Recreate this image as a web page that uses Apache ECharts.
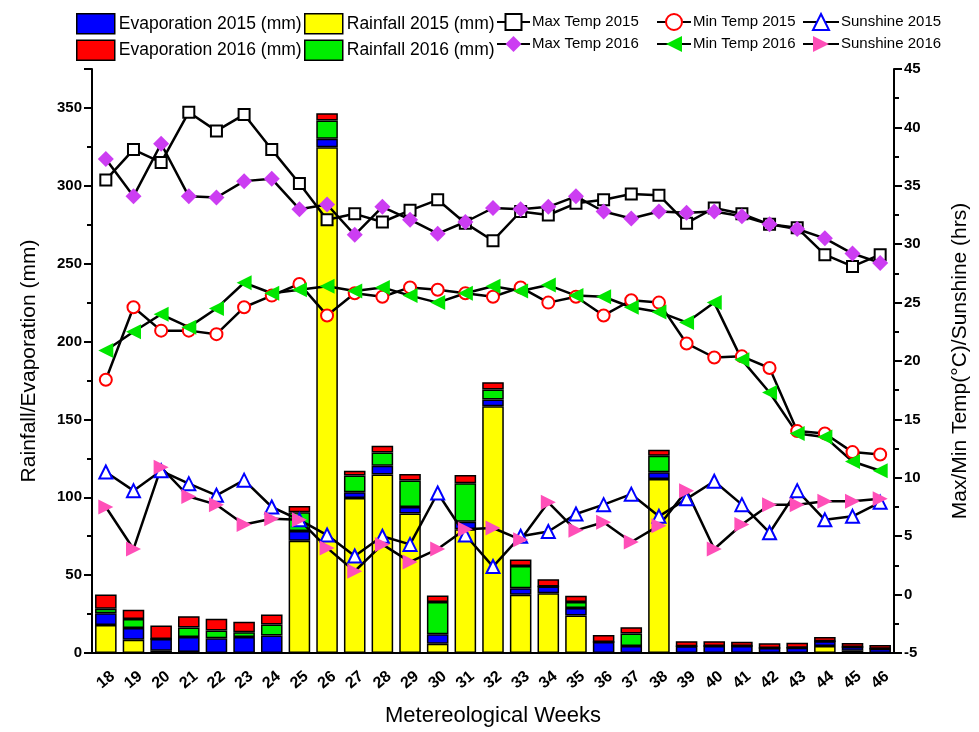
<!DOCTYPE html>
<html><head><meta charset="utf-8">
<script src="https://cdn.jsdelivr.net/npm/echarts@6/dist/echarts.min.js"></script>
<style>html,body{margin:0;padding:0;background:#fff}#c{width:979px;height:732px}</style>
</head><body><div id="c"></div>
<script>
const weeks = ['18','19','20','21','22','23','24','25','26','27','28','29','30','31','32','33','34','35','36','37','38','39','40','41','42','43','44','45','46'];
const rainfall2015 = [18,8.5,1.5,0.6,0,0,0,72,324.7,99.5,114.6,89.5,6,79.5,158.5,37.4,38.4,24,0,0,111.8,0,0,0,0,0,4.5,1.5,0];
const evaporation2015 = [7.6,7.6,7.5,9.6,9.4,10.2,11.3,6.4,5.5,3.8,5.7,4.2,6,4.7,4.3,4.2,4.3,4.9,7,4.5,4.2,4.4,4.5,4.5,3.2,3.4,3.1,2.3,2.7];
const rainfall2016 = [2.8,5.7,0,6.2,5.1,3.2,7,11.9,11.7,10.6,8.5,17,20.8,24.8,6.4,14.3,0,3.8,0,8,10.6,0,0,0,0,0,0,0,0];
const evaporation2016 = [9.1,5.9,8.7,7.2,7.5,6.6,6.4,4.1,4.7,3.2,4.2,4.3,4.1,5.3,4.7,4.2,4.7,4.1,4.5,4.1,3.9,3.2,3.1,2.8,3,3.2,2.6,2.6,2.4];
const maxTemp2015 = [35.5,38.1,37.0,41.3,39.7,41.1,38.1,35.2,32.1,32.6,31.9,32.9,33.8,31.8,30.3,32.8,32.5,33.5,33.8,34.3,34.2,31.8,33.1,32.6,31.7,31.4,29.1,28.1,29.1];
const maxTemp2016 = [37.3,34.1,38.6,34.1,34.0,35.4,35.6,33.0,33.4,30.8,33.2,32.1,30.9,31.9,33.1,33.0,33.2,34.1,32.8,32.2,32.8,32.7,32.8,32.4,31.7,31.3,30.5,29.2,28.4];
const minTemp2015 = [18.4,24.6,22.6,22.6,22.3,24.6,25.6,26.6,23.9,25.8,25.5,26.3,26.1,25.8,25.5,26.3,25.0,25.5,23.9,25.2,25.0,21.5,20.3,20.4,19.4,14.0,13.8,12.2,12.0];
const minTemp2016 = [20.9,22.5,24.0,22.9,24.5,26.7,25.8,26.1,26.4,26.0,26.3,25.6,25.0,25.8,26.4,26.0,26.5,25.6,25.5,24.6,24.2,23.3,25.0,20.1,17.3,13.8,13.5,11.4,10.6];
const sunshine2015 = [10.5,8.9,10.6,9.5,8.5,9.8,7.5,6.4,5.1,3.3,5.0,4.3,8.7,5.1,2.4,5.0,5.4,6.9,7.7,8.6,6.7,8.2,9.7,7.7,5.3,8.9,6.4,6.7,7.9];
const sunshine2016 = [7.5,3.9,10.9,8.4,7.7,6.0,6.5,6.4,4.0,2.0,4.3,2.8,3.9,5.6,5.7,4.7,7.9,5.5,6.2,4.5,5.9,8.9,3.9,6.0,7.7,7.7,8.0,8.0,8.2];
const leftTicks = {min:0, max:375, interval:50};
const rightTicks = {min:-5, max:45, interval:5};

const FONT = 'Liberation Sans, Arial, sans-serif';
const chart = echarts.init(document.getElementById('c'), null, {renderer:'canvas'});

function bar(name, data, color){
  return {name, type:'bar', stack:'all', data, barWidth:'78%',
    itemStyle:{color, borderColor:'#000', borderWidth:1.5}, z:2, animation:false};
}
function line(name, data, symbol, size, color, rotate, empty){
  return {name, type:'line', yAxisIndex:1, data, symbol, symbolSize:size, symbolRotate:rotate||0,
    lineStyle:{color:'#000', width:2.5},
    itemStyle:{color, borderWidth: empty?2.8:0, borderColor: color},
    z:5, animation:false};
}

const barLeg = {orient:'vertical', top:8, icon:'rect', itemWidth:38, itemHeight:20, itemGap:5,
  itemStyle:{borderColor:'#000', borderWidth:1.5},
  textStyle:{fontFamily:FONT, fontSize:17.5, color:'#000', padding:[0,0,0,-1]}};
const lineLeg = {orient:'vertical', top:8, itemHeight:20, itemGap:5,
  textStyle:{fontFamily:FONT, fontSize:15, color:'#000', padding:[0,0,0,-3]}};
const option = {
  backgroundColor:'#fff',
  animation:false,
  legend:[
    Object.assign({}, barLeg, {left:71, data:['Evaporation 2015 (mm)','Evaporation 2016 (mm)']}),
    Object.assign({}, barLeg, {left:299, data:['Rainfall 2015 (mm)','Rainfall 2016 (mm)']}),
    Object.assign({}, lineLeg, {left:491, itemWidth:33, data:['Max Temp 2015','Max Temp 2016']}),
    Object.assign({}, lineLeg, {left:651, itemWidth:34, data:['Min Temp 2015','Min Temp 2016']}),
    Object.assign({}, lineLeg, {left:797, itemWidth:36, data:['Sunshine 2015','Sunshine 2016']})
  ],
  grid:{left:92, right:82, top:69, bottom:75, containLabel:false},
  xAxis:[
    {type:'category', data:weeks, position:'bottom', boundaryGap:true,
     name:'Metereological Weeks', nameLocation:'middle', nameGap:52,
     nameTextStyle:{fontFamily:FONT, fontSize:22, color:'#000'},
     axisLine:{lineStyle:{color:'#000', width:2}},
     axisTick:{alignWithLabel:true, length:8, lineStyle:{color:'#000', width:2}},
     axisLabel:{interval:0, rotate:40, align:'center', verticalAlign:'middle', margin:27, fontFamily:FONT, fontSize:16, fontWeight:'bold', color:'#000'}},
    {type:'category', data:weeks, position:'bottom', boundaryGap:true, offset:0,
     axisLine:{show:false}, axisLabel:{show:false},
     axisTick:{alignWithLabel:false, length:5, lineStyle:{color:'#000', width:2}}}
  ],
  yAxis:[
    {type:'value', min:leftTicks.min, max:leftTicks.max, interval:leftTicks.interval, position:'left',
     name:'Rainfall/Evaporation (mm)', nameLocation:'middle', nameGap:52, nameRotate:90,
     nameTextStyle:{fontFamily:FONT, fontSize:21, color:'#000'},
     splitLine:{show:false},
     axisLine:{show:true, lineStyle:{color:'#000', width:2}},
     axisTick:{show:true, length:8, lineStyle:{color:'#000', width:2}},
     minorTick:{show:true, splitNumber:2, length:5, lineStyle:{color:'#000', width:2}},
     axisLabel:{showMaxLabel:false, margin:10, fontFamily:FONT, fontSize:15, fontWeight:'bold', color:'#000'}},
    {type:'value', min:rightTicks.min, max:rightTicks.max, interval:rightTicks.interval, position:'right',
     name:'Max/Min Temp(\u00B0C)/Sunshine (hrs)', nameLocation:'middle', nameGap:56, nameRotate:90,
     nameTextStyle:{fontFamily:FONT, fontSize:21, color:'#000'},
     splitLine:{show:false},
     axisLine:{show:true, lineStyle:{color:'#000', width:2}},
     axisTick:{show:true, length:8, lineStyle:{color:'#000', width:2}},
     minorTick:{show:true, splitNumber:2, length:5, lineStyle:{color:'#000', width:2}},
     axisLabel:{margin:10, fontFamily:FONT, fontSize:15, fontWeight:'bold', color:'#000'}}
  ],
  series:[
    bar('Rainfall 2015 (mm)', rainfall2015, '#FFFF00'),
    bar('Evaporation 2015 (mm)', evaporation2015, '#0000FF'),
    bar('Rainfall 2016 (mm)', rainfall2016, '#00EE00'),
    bar('Evaporation 2016 (mm)', evaporation2016, '#FF0000'),
    line('Max Temp 2015', maxTemp2015, 'emptyRect', 11, '#000', 0, true),
    line('Max Temp 2016', maxTemp2016, 'diamond', 16, '#CC3DF2', 0, false),
    line('Min Temp 2015', minTemp2015, 'emptyCircle', 12, '#FF0000', 0, true),
    line('Min Temp 2016', minTemp2016, 'triangle', 15, '#00E600', 90, false),
    line('Sunshine 2015', sunshine2015, 'emptyTriangle', 13, '#0000FF', 0, true),
    line('Sunshine 2016', sunshine2016, 'triangle', 15, '#FF4FB8', -90, false)
  ]
};
chart.setOption(option);
</script>
</body></html>
